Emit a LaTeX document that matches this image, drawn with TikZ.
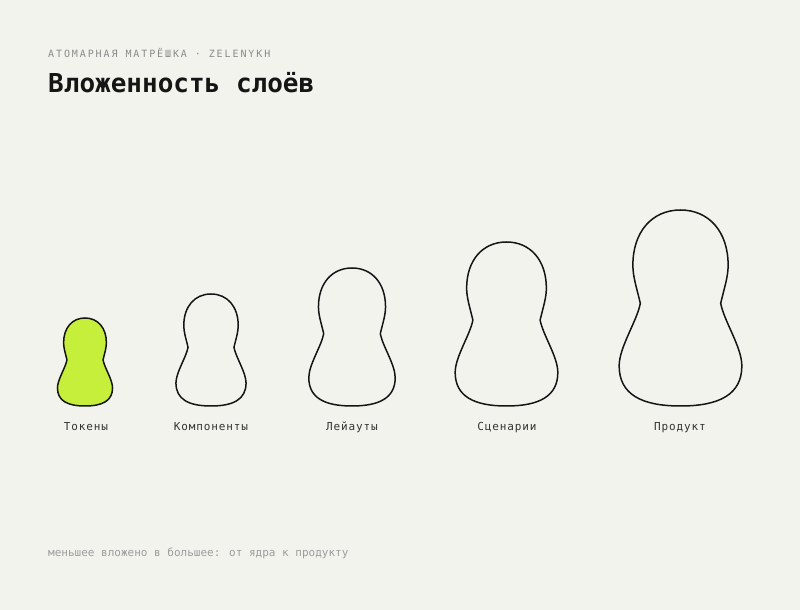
\documentclass[tikz,border=0pt]{standalone}
\usepackage{fontspec}
\newfontfamily\monofont{DejaVu Sans Mono}
\newfontfamily\monohead[LetterSpace=19]{DejaVu Sans Mono}
\newfontfamily\monolab[LetterSpace=8]{DejaVu Sans Mono}
\definecolor{bg}{HTML}{F3F3EE}
\definecolor{lime}{HTML}{C6EF3C}
\definecolor{headgrey}{HTML}{8A8A8A}
\definecolor{footgrey}{HTML}{9C9C9C}
\definecolor{ink}{HTML}{151515}
\definecolor{labink}{HTML}{333333}
\tikzset{
  dollline/.style={draw=ink, line width=1.5pt, line join=round},
  headtext/.style={anchor=base west, inner sep=0pt, text=headgrey, font=\monohead\fontsize{10}{12}\selectfont},
  titletext/.style={anchor=base west, inner sep=0pt, text=ink, font=\monofont\bfseries\fontsize{26}{30}\selectfont},
  labtext/.style={anchor=base, inner sep=0pt, text=labink, font=\monolab\fontsize{11}{13}\selectfont},
  foottext/.style={anchor=base west, inner sep=0pt, text=footgrey, font=\monofont\fontsize{11}{13}\selectfont},
}
\newcommand\drawdoll[3]{%
  \begin{scope}[shift={(#1,204)},scale=#2]
    \path[dollline,#3] (0,0)
      .. controls (0.2,0) and (0.313,0.06) .. (0.313,0.205)
      .. controls (0.313,0.30) and (0.2215,0.434) .. (0.205,0.524)
      .. controls (0.226,0.612) and (0.243,0.66) .. (0.243,0.719)
      .. controls (0.243,0.888) and (0.146,1) .. (0,1)
      .. controls (-0.146,1) and (-0.243,0.888) .. (-0.243,0.719)
      .. controls (-0.243,0.66) and (-0.226,0.612) .. (-0.205,0.524)
      .. controls (-0.2215,0.434) and (-0.313,0.30) .. (-0.313,0.205)
      .. controls (-0.313,0.06) and (-0.2,0) .. (0,0) -- cycle;
  \end{scope}}
\begin{document}
\begin{tikzpicture}[x=1pt,y=1pt]
  \useasboundingbox (0,0) rectangle (800,610);
  \fill[bg] (0,0) rectangle (800,610);
  \node[headtext] (head) at (48,552) {АТОМАРНАЯ МАТРЁШКА · ZELENYKH};
  \node[titletext] (title) at (48,517) {Вложенность слоёв};
  \drawdoll{85}{88}{fill=lime}
  \drawdoll{211}{112}{}
  \drawdoll{352}{138}{}
  \drawdoll{506.5}{164}{}
  \drawdoll{680.5}{196}{}
  \node[labtext] (l1) at (86,179) {Токены};
  \node[labtext] (l2) at (211,179) {Компоненты};
  \node[labtext] (l3) at (352,179) {Лейауты};
  \node[labtext] (l4) at (507,179) {Сценарии};
  \node[labtext] (l5) at (680,179) {Продукт};
  \node[foottext] (foot) at (48,53) {меньшее вложено в большее: от ядра к продукту};
\end{tikzpicture}
\end{document}
